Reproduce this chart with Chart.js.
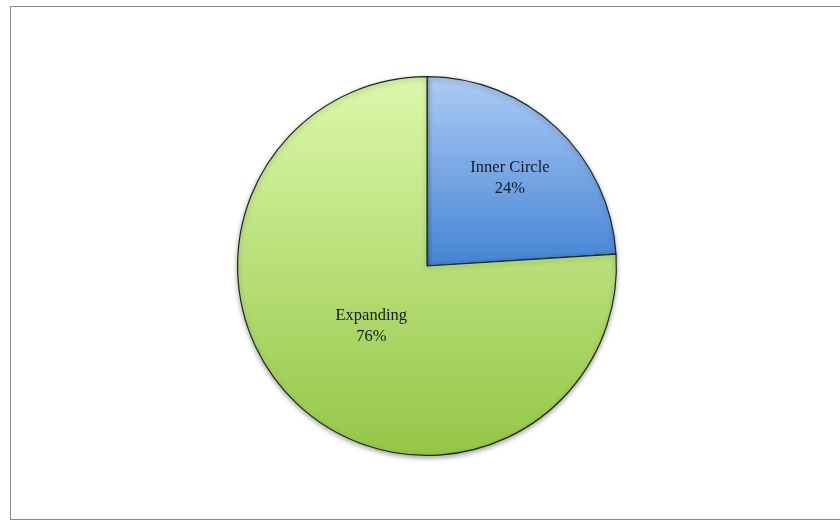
<!DOCTYPE html>
<html>
<head>
<meta charset="utf-8">
<script src="https://cdn.jsdelivr.net/npm/chart.js@4"></script>
<style>
  html, body { margin: 0; padding: 0; background: #fff; }
  #wrap { position: relative; width: 840px; height: 523px; overflow: hidden; }
  #frame {
    position: absolute; left: 10px; top: 6px; width: 840px; height: 514px;
    border: 1px solid #8a8a8a; box-sizing: border-box;
  }
  canvas { position: absolute; left: 0; top: 0; }
</style>
</head>
<body>
<div id="wrap">
  <div id="frame"></div>
  <canvas id="pieChart" width="840" height="523"></canvas>
</div>
<script>
const labels = ["Inner Circle", "Expanding"];
const shares = [24, 76];

// light -> dark vertical gradient stops for each slice
const topColors = ["#aecbf5", "#dcf8ab"];
const bottomColors = ["#4484d4", "#94c646"];

/* ---------- Slice fills ---------- */

function sliceFill(context) {
  const chart = context.chart;
  const area = chart.chartArea;
  if (!area) return topColors[context.dataIndex];
  const cy = (area.top + area.bottom) / 2;
  const r = Math.min(area.right - area.left, area.bottom - area.top) / 2;
  const i = context.dataIndex;
  // first slice only covers the upper half, the big one the whole disc
  const y1 = i === 0 ? cy : cy + r;
  const g = chart.ctx.createLinearGradient(0, cy - r, 0, y1);
  g.addColorStop(0, topColors[i]);
  g.addColorStop(1, bottomColors[i]);
  return g;
}

/* ---------- Labels & shadow ---------- */

const sliceLabels = {
  id: "sliceLabels",
  beforeDatasetsDraw(chart) {
    const ctx = chart.ctx;
    ctx.save();
    ctx.shadowColor = "rgba(0,0,0,0.35)";
    ctx.shadowBlur = 5;
    ctx.shadowOffsetY = 2;
  },
  afterDatasetsDraw(chart, args, opts) {
    const ctx = chart.ctx;
    ctx.restore();
    const meta = chart.getDatasetMeta(0);
    ctx.save();
    ctx.font = "16.5px 'Liberation Serif', 'Times New Roman', serif";
    ctx.fillStyle = "#141a24";
    ctx.textAlign = "center";
    ctx.textBaseline = "middle";
    meta.data.forEach((arc, i) => {
      const p = arc.getProps(["x", "y", "startAngle", "endAngle", "outerRadius"], true);
      const mid = (p.startAngle + p.endAngle) / 2;
      const d = p.outerRadius * opts.radius[i];
      const x = p.x + Math.cos(mid) * d;
      const y = p.y + Math.sin(mid) * d;
      ctx.fillText(labels[i], x, y - 10);
      ctx.fillText(shares[i] + "%", x, y + 11);
    });
    ctx.restore();
  }
};

/* ---------- Chart ---------- */

new Chart(document.getElementById("pieChart"), {
  type: "pie",
  data: {
    labels,
    datasets: [{
      data: shares,
      backgroundColor: sliceFill,
      borderColor: "#1e2a1e",
      borderWidth: 1.2
    }]
  },
  options: {
    responsive: false,
    animation: false,
    layout: { padding: { left: 237, right: 223, top: 76, bottom: 67 } },
    plugins: {
      legend: { display: false },
      tooltip: { enabled: false },
      sliceLabels: { radius: [0.64, 0.43] }
    }
  },
  plugins: [sliceLabels]
});
</script>
</body>
</html>
